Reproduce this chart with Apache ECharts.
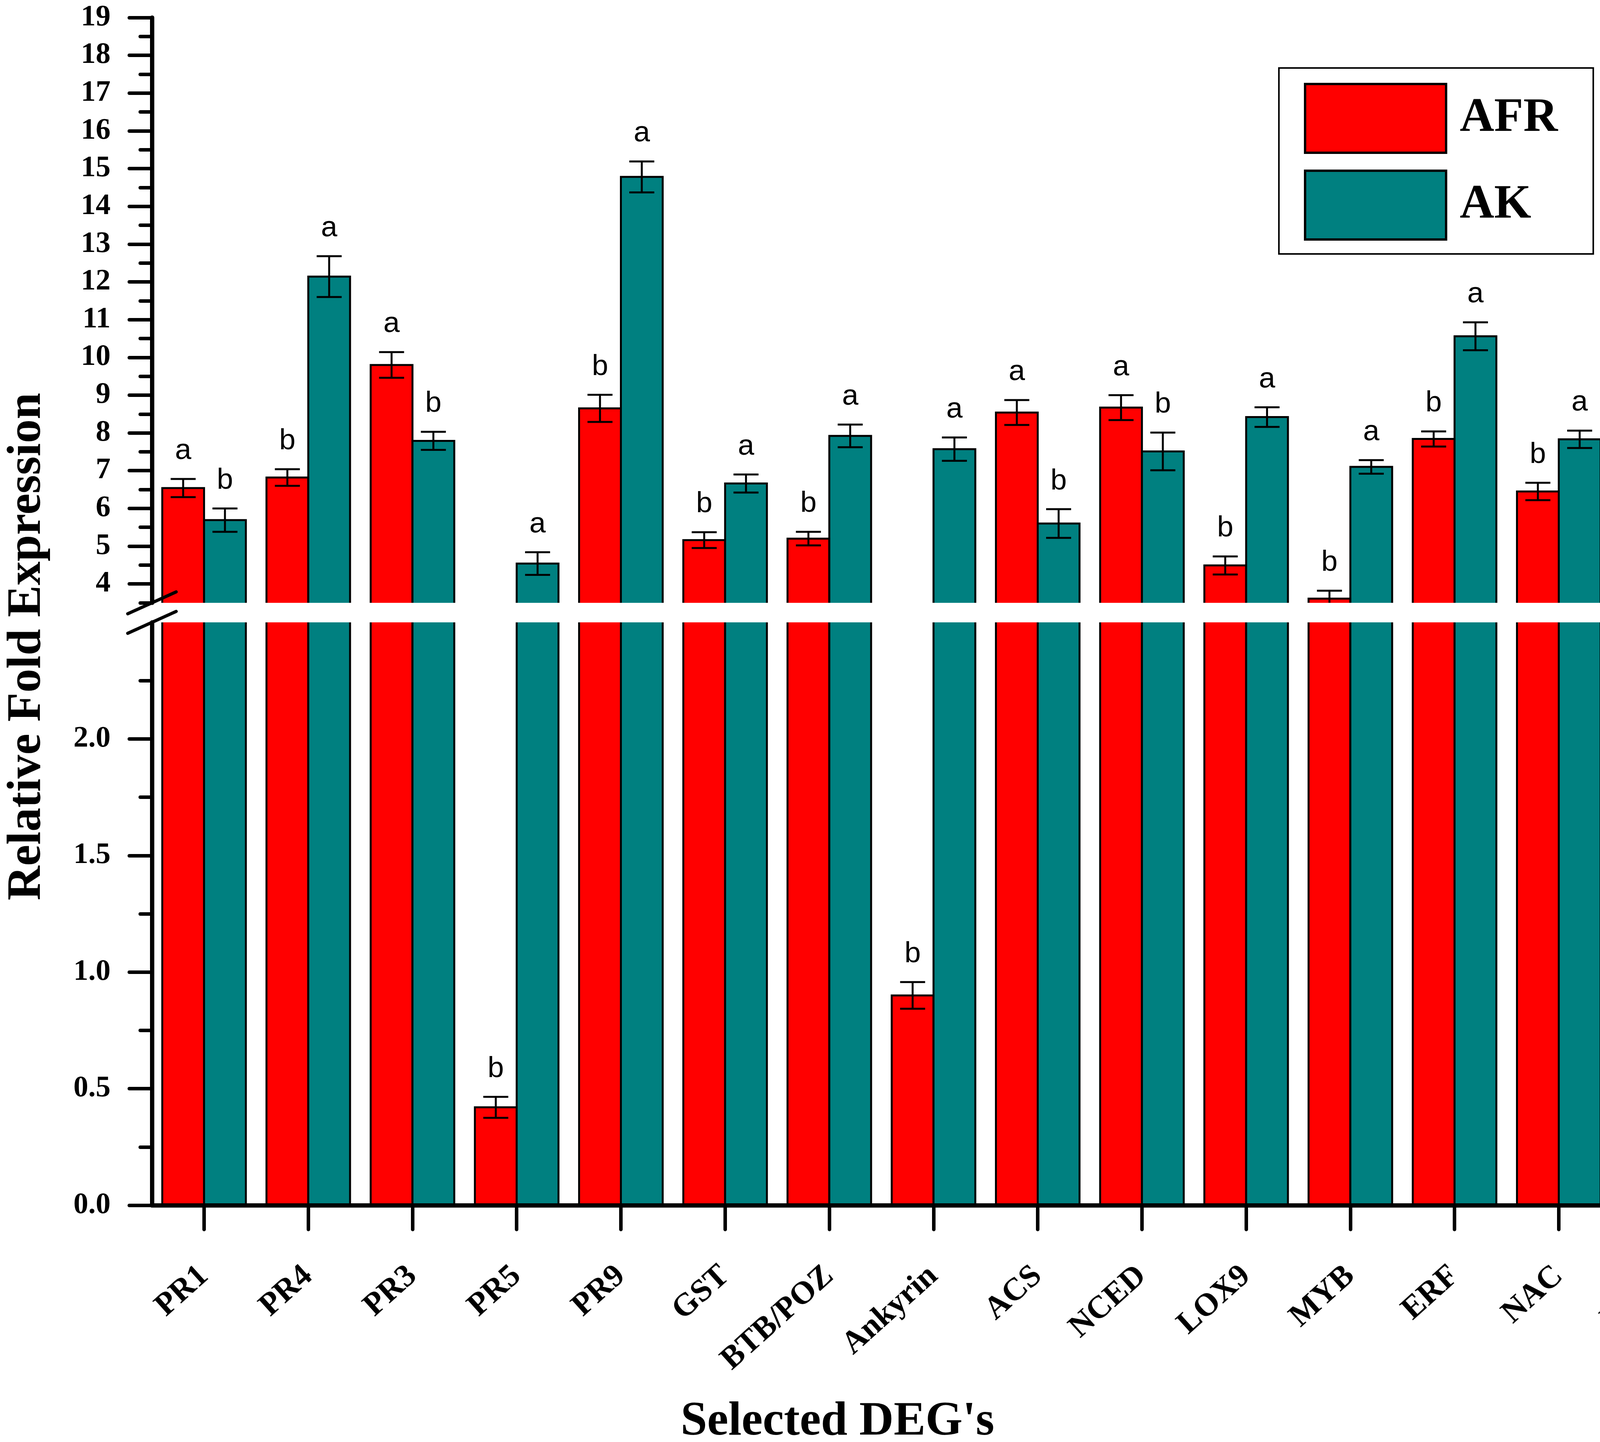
<!DOCTYPE html>
<html>
<head>
<meta charset="utf-8">
<title>Relative Fold Expression</title>
<script src="https://cdn.jsdelivr.net/npm/echarts@6/dist/echarts.min.js"></script>
<style>
  html, body { margin: 0; padding: 0; background: #fff; }
  #chart { width: 4550px; height: 3691px; }
</style>
</head>
<body>
<div id="chart"></div>
<script>
const categories = ['PR1', 'PR4', 'PR3', 'PR5', 'PR9', 'GST', 'BTB/POZ', 'Ankyrin',
  'ACS', 'NCED', 'LOX9', 'MYB', 'ERF', 'NAC', 'PGIP'];
const afr = [6.54, 6.82, 9.80, 0.42, 8.65, 5.16, 5.20, 0.90, 8.54, 8.67, 4.49, 3.61, 7.84, 6.45, 9.84];
const afrErr = [0.24, 0.22, 0.34, 0.045, 0.36, 0.21, 0.18, 0.057, 0.33, 0.33, 0.24, 0.21, 0.20, 0.23, 0.37];
const ak = [5.69, 12.14, 7.79, 4.54, 14.78, 6.66, 7.92, 7.57, 5.60, 7.51, 8.42, 7.10, 10.56, 7.83, 10.79];
const akErr = [0.31, 0.54, 0.24, 0.30, 0.41, 0.24, 0.30, 0.31, 0.38, 0.50, 0.26, 0.18, 0.37, 0.23, 0.28];
const afrLetters = ['a', 'b', 'a', 'b', 'b', 'b', 'b', 'b', 'a', 'a', 'b', 'b', 'b', 'b', 'b'];
const akLetters = ['b', 'a', 'b', 'a', 'a', 'a', 'a', 'a', 'b', 'b', 'a', 'a', 'a', 'a', 'a'];

const upperMajor = [4, 5, 6, 7, 8, 9, 10, 11, 12, 13, 14, 15, 16, 17, 18, 19];
const upperMinor = [3.5, 4.5, 5.5, 6.5, 7.5, 8.5, 9.5, 10.5, 11.5, 12.5, 13.5, 14.5, 15.5, 16.5, 17.5, 18.5];
const lowerMajor = [0, 0.5, 1.0, 1.5, 2.0];
const lowerMinor = [0.25, 0.75, 1.25, 1.75, 2.25];

const RED = '#ff0000';
const TEAL = '#008080';
const SERIF = '"Liberation Serif", "Times New Roman", serif';
const SANS = '"Liberation Sans", Arial, sans-serif';

// layout (px)
const LEFT = 389;
const PLOT_W = 4135;
const UP_TOP = 45;
const UP_H = 1498;
const LOW_TOP = 1593;
const LOW_H = 1492;
const BAR_W = 107;
const CAP = 32;

const chart = echarts.init(document.getElementById('chart'));

// bar + error bar + significance letter, clipped to its own grid
function makeRender(color, side, letters) {
  return function (params, api) {
    const i = params.dataIndex;
    const x = api.value(0);
    const v = api.value(1);
    const err = api.value(2);
    const base = api.coord([x, 0]);
    const top = api.coord([x, v]);
    const left = side < 0 ? base[0] - BAR_W : base[0];
    const cx = left + BAR_W / 2;
    const hi = api.coord([x, v + err])[1];
    const lo = api.coord([x, v - err])[1];
    const lineStyle = { stroke: '#000', lineWidth: 5 };
    return {
      type: 'group',
      children: [
        {
          type: 'rect',
          shape: { x: left, y: top[1], width: BAR_W, height: base[1] - top[1] },
          style: { fill: color, stroke: '#000', lineWidth: 5 },
        },
        { type: 'line', shape: { x1: cx, y1: hi, x2: cx, y2: lo }, style: lineStyle },
        { type: 'line', shape: { x1: cx - CAP, y1: hi, x2: cx + CAP, y2: hi }, style: lineStyle },
        { type: 'line', shape: { x1: cx - CAP, y1: lo, x2: cx + CAP, y2: lo }, style: lineStyle },
        {
          type: 'text',
          style: {
            text: letters[i],
            x: cx,
            y: hi - 34,
            align: 'center',
            verticalAlign: 'bottom',
            font: '75px ' + SANS,
            fill: '#000',
          },
        },
      ],
    };
  };
}

function barSeries(name, values, errs, letters, color, side, gridIdx) {
  return {
    name,
    type: 'custom',
    xAxisIndex: gridIdx,
    yAxisIndex: gridIdx,
    clip: true,
    itemStyle: { color },
    encode: { x: 0, y: 1 },
    data: values.map((v, i) => [i + 1, v, errs[i]]),
    renderItem: makeRender(color, side, letters),
  };
}

const tickStyle = { color: '#000', width: 9, cap: 'round' };
const labelFont = { color: '#000', fontFamily: SERIF, fontWeight: 'bold', fontSize: 76 };

function yAxis(gridIdx, min, max, major, minor, withLine, fmt) {
  return {
    type: 'value',
    gridIndex: gridIdx,
    position: 'left',
    min,
    max,
    axisLine: { show: withLine, lineStyle: { color: '#000', width: 11 } },
    axisTick: {
      show: true,
      length: minor ? 30 : 58,
      lineStyle: tickStyle,
      customValues: minor || major,
    },
    axisLabel: minor
      ? { show: false }
      : Object.assign({ margin: 106, customValues: major, formatter: fmt }, labelFont),
    splitLine: { show: false },
    z: 10,
  };
}

const xBase = { type: 'value', min: 0.5, max: 16, splitLine: { show: false } };

chart.setOption({
  animation: false,
  backgroundColor: '#fff',
  grid: [
    { left: LEFT, top: UP_TOP, width: PLOT_W, height: UP_H, outerBoundsMode: 'none' },
    { left: LEFT, top: LOW_TOP, width: PLOT_W, height: LOW_H, outerBoundsMode: 'none' },
  ],
  xAxis: [
    Object.assign({ gridIndex: 0, show: false }, xBase),
    Object.assign({
      gridIndex: 1,
      z: 10,
      axisLine: { lineStyle: { color: '#000', width: 11 } },
      axisTick: {
        length: 62,
        lineStyle: tickStyle,
        customValues: [1, 2, 3, 4, 5, 6, 7, 8, 9, 10, 11, 12, 13, 14, 15, 16],
      },
      axisLabel: {
        rotate: 42,
        margin: 170,
        color: '#000',
        fontFamily: SERIF,
        fontWeight: 'bold',
        fontSize: 82,
        customValues: categories.map((c, i) => i + 1),
        formatter: (v) => categories[Math.round(v) - 1] || '',
      },
    }, xBase),
  ],
  yAxis: [
    yAxis(0, 3.5, 19, upperMajor, null, true, (v) => String(v)),
    yAxis(1, 0, 2.5, lowerMajor, null, true, (v) => v.toFixed(1)),
    yAxis(0, 3.5, 19, upperMajor, upperMinor, false),
    yAxis(1, 0, 2.5, lowerMajor, lowerMinor, false),
  ],
  legend: {
    orient: 'vertical',
    left: 3274,
    top: 174,
    padding: [38, 91, 34, 64],
    itemGap: 40,
    itemWidth: 361,
    itemHeight: 176,
    icon: 'rect',
    selectedMode: false,
    borderColor: '#000',
    borderWidth: 4,
    itemStyle: { borderColor: '#000', borderWidth: 6 },
    textStyle: {
      color: '#000',
      fontFamily: SERIF,
      fontWeight: 'bold',
      fontSize: 122,
      padding: [0, 0, 0, 30],
    },
    data: [
      { name: 'AFR', itemStyle: { color: RED } },
      { name: 'AK', itemStyle: { color: TEAL } },
    ],
  },
  series: [
    barSeries('AFR', afr, afrErr, afrLetters, RED, -1, 0),
    barSeries('AK', ak, akErr, akLetters, TEAL, 1, 0),
    barSeries('AFR', afr, afrErr, afrLetters, RED, -1, 1),
    barSeries('AK', ak, akErr, akLetters, TEAL, 1, 1),
  ],
  graphic: [
    // axis break marks
    {
      type: 'line', z: 100,
      shape: { x1: LEFT - 62, y1: UP_TOP + UP_H + 28, x2: LEFT + 62, y2: UP_TOP + UP_H - 28 },
      style: { stroke: '#000', lineWidth: 8, lineCap: 'round' },
    },
    {
      type: 'line', z: 100,
      shape: { x1: LEFT - 62, y1: LOW_TOP + 28, x2: LEFT + 62, y2: LOW_TOP - 28 },
      style: { stroke: '#000', lineWidth: 8, lineCap: 'round' },
    },
    {
      type: 'text', x: 70, y: 1655, rotation: Math.PI / 2,
      style: {
        text: 'Relative Fold Expression', fill: '#000',
        font: 'bold 122px ' + SERIF, align: 'center', verticalAlign: 'middle',
      },
    },
    {
      type: 'text', x: 2144, y: 3640,
      style: {
        text: "Selected DEG's", fill: '#000',
        font: 'bold 122px ' + SERIF, align: 'center', verticalAlign: 'middle',
      },
    },
  ],
});
</script>
</body>
</html>
